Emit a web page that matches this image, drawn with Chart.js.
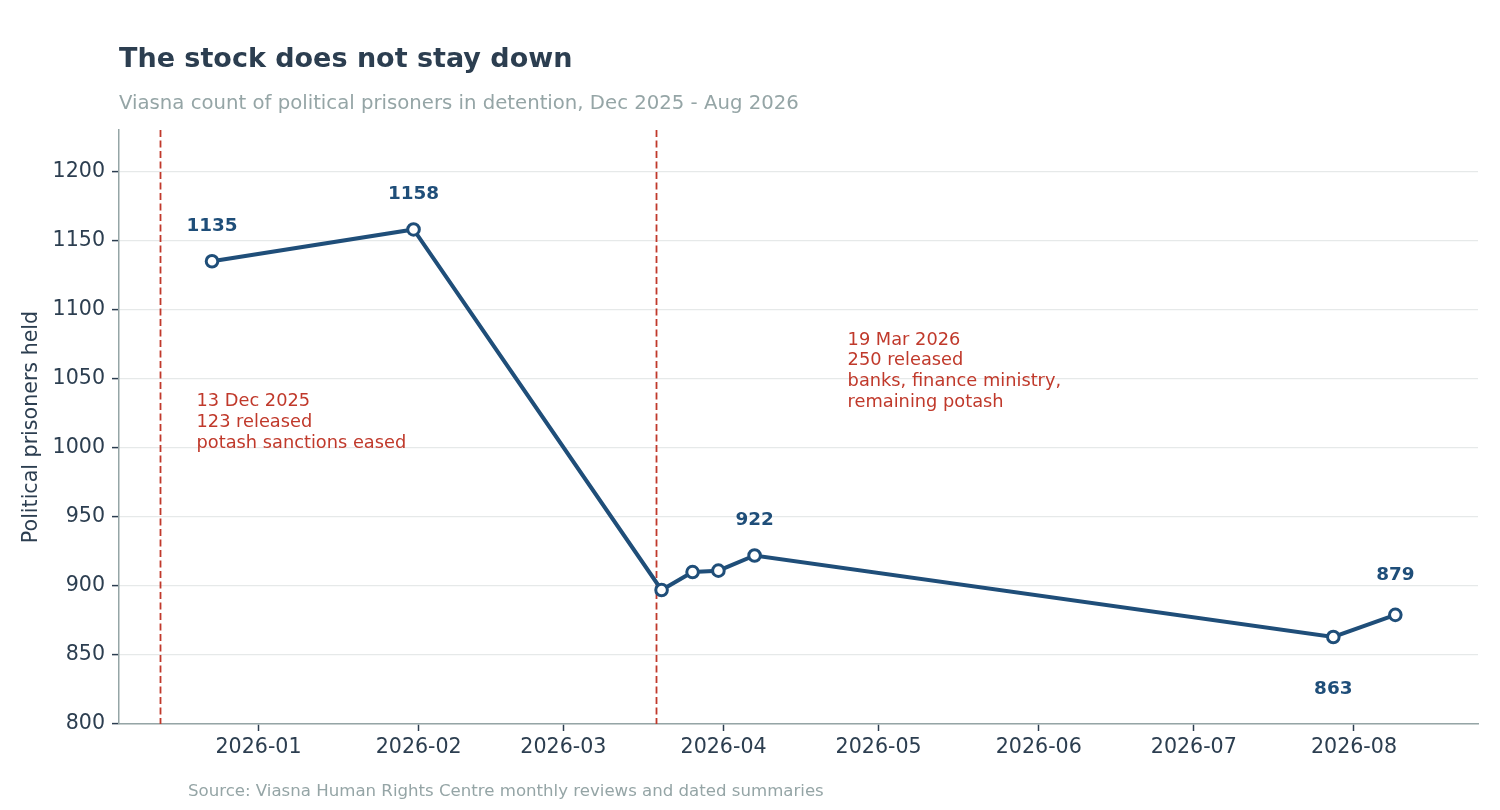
<!DOCTYPE html>
<html lang="en">
<head>
<meta charset="UTF-8">
<title>The stock does not stay down</title>
<script src="https://cdn.jsdelivr.net/npm/chart.js"></script>
<style>
  html, body { margin: 0; padding: 0; background: #fff; }
  #wrap { width: 1500px; height: 810px; position: relative; }
</style>
</head>
<body>
<div id="wrap"><canvas id="chart"></canvas></div>
<script>
// Data
const dates = ['2025-12-23', '2026-01-31', '2026-03-20', '2026-03-26', '2026-03-31', '2026-04-07', '2026-07-28', '2026-08-09'];
const prisoners = [1135, 1158, 897, 910, 911, 922, 863, 879];
const labelled = [true, true, false, false, false, true, true, true];
const labelBelow = [false, false, false, false, false, false, true, false];

const monthTicks = ['2026-01', '2026-02', '2026-03', '2026-04', '2026-05', '2026-06', '2026-07', '2026-08'];
const yTicks = [800, 850, 900, 950, 1000, 1050, 1100, 1150, 1200];

const releaseDates = ['2025-12-13', '2026-03-19'];
const releaseNotes = [
    ['13 Dec 2025', '123 released', 'potash sanctions eased'],
    ['19 Mar 2026', '250 released', 'banks, finance ministry,', 'remaining potash']
];
const noteAnchors = [['2025-12-20', 1033.5], ['2026-04-25', 1078]];

const xMin = '2025-12-05';
const xMax = '2026-08-25';

const DAY = 86400000;
const toDay = s => Date.parse(s + 'T00:00:00Z') / DAY;

const BLUE = '#1f4e79';
const RED = '#c0392b';
const DARK = '#2c3e50';
const GREY = '#95a5a6';
const FONT = "'DejaVu Sans', sans-serif";

const points = dates.map((d, i) => ({ x: toDay(d), y: prisoners[i] }));

const overlay = {
    id: 'overlay',
    beforeDatasetsDraw(chart) {
        const { ctx, chartArea, scales } = chart;
        ctx.save();
        ctx.strokeStyle = RED;
        ctx.lineWidth = 1.8;
        ctx.setLineDash([7, 3.5]);
        releaseDates.forEach(d => {
            const x = Math.round(scales.x.getPixelForValue(toDay(d))) + 0.5;
            ctx.beginPath();
            ctx.moveTo(x, chartArea.top);
            ctx.lineTo(x, chartArea.bottom);
            ctx.stroke();
        });
        ctx.setLineDash([]);
        ctx.fillStyle = RED;
        ctx.font = '17.8px ' + FONT;
        ctx.textAlign = 'left';
        ctx.textBaseline = 'middle';
        releaseNotes.forEach((lines, i) => {
            const x = scales.x.getPixelForValue(toDay(noteAnchors[i][0]));
            const y = scales.y.getPixelForValue(noteAnchors[i][1]);
            lines.forEach((t, j) => ctx.fillText(t, x, y + j * 20.8));
        });
        ctx.restore();
    },
    afterDatasetsDraw(chart) {
        const { ctx } = chart;
        const meta = chart.getDatasetMeta(0);
        ctx.save();
        ctx.fillStyle = BLUE;
        ctx.font = 'bold 18.4px ' + FONT;
        ctx.textAlign = 'center';
        ctx.textBaseline = 'middle';
        meta.data.forEach((pt, i) => {
            if (!labelled[i]) return;
            let dy = labelBelow[i] ? 52 : -35;
            if (i === prisoners.length - 1) dy = -40;
            ctx.fillText(String(prisoners[i]), pt.x, pt.y + dy);
        });
        ctx.restore();
    },
    afterDraw(chart) {
        const { ctx } = chart;
        ctx.save();
        ctx.textAlign = 'left';
        ctx.textBaseline = 'middle';
        ctx.fillStyle = DARK;
        ctx.font = 'bold 27px ' + FONT;
        ctx.fillText('The stock does not stay down', 119, 60);
        ctx.fillStyle = GREY;
        ctx.font = '19.7px ' + FONT;
        ctx.fillText('Viasna count of political prisoners in detention, Dec 2025 - Aug 2026', 119, 104);
        ctx.font = '16.6px ' + FONT;
        ctx.fillText('Source: Viasna Human Rights Centre monthly reviews and dated summaries', 188, 792);
        ctx.restore();
    }
};

new Chart(document.getElementById('chart'), {
    type: 'line',
    data: {
        datasets: [{
            data: points,
            borderColor: BLUE,
            borderWidth: 4,
            pointBackgroundColor: '#ffffff',
            pointBorderColor: BLUE,
            pointBorderWidth: 3,
            pointRadius: 5.8,
            tension: 0
        }]
    },
    options: {
        responsive: true,
        maintainAspectRatio: false,
        animation: false,
        events: [],
        layout: { padding: { top: 130, right: 22, left: 0, bottom: 0 } },
        plugins: { legend: { display: false }, tooltip: { enabled: false } },
        scales: {
            x: {
                type: 'linear',
                min: toDay(xMin),
                max: toDay(xMax),
                afterFit: s => { s.height = 86; },
                afterBuildTicks: s => { s.ticks = monthTicks.map(m => ({ value: toDay(m + '-01') })); },
                ticks: {
                    color: DARK,
                    font: { family: FONT, size: 20.6 },
                    padding: 4,
                    maxRotation: 0,
                    autoSkip: false,
                    callback: (v, i) => monthTicks[i]
                },
                grid: { drawOnChartArea: false, drawTicks: true, tickLength: 7, tickColor: DARK, tickWidth: 1.5 },
                border: { display: true, color: GREY, width: 1.5 }
            },
            y: {
                min: 800,
                max: 1230,
                afterFit: s => { s.width = 119; },
                afterBuildTicks: s => { s.ticks = yTicks.map(v => ({ value: v })); },
                ticks: {
                    color: DARK,
                    font: { family: FONT, size: 20.6 },
                    padding: 7,
                    callback: v => String(v)
                },
                grid: { color: '#e6e9e9', lineWidth: 1.2, tickColor: DARK, tickLength: 7, tickWidth: 1.5 },
                border: { display: true, color: GREY, width: 1.5 },
                title: {
                    display: true,
                    text: 'Political prisoners held',
                    color: DARK,
                    font: { family: FONT, size: 20.6 },
                    padding: { top: 19, bottom: 0 }
                }
            }
        }
    },
    plugins: [overlay]
});
</script>
</body>
</html>
